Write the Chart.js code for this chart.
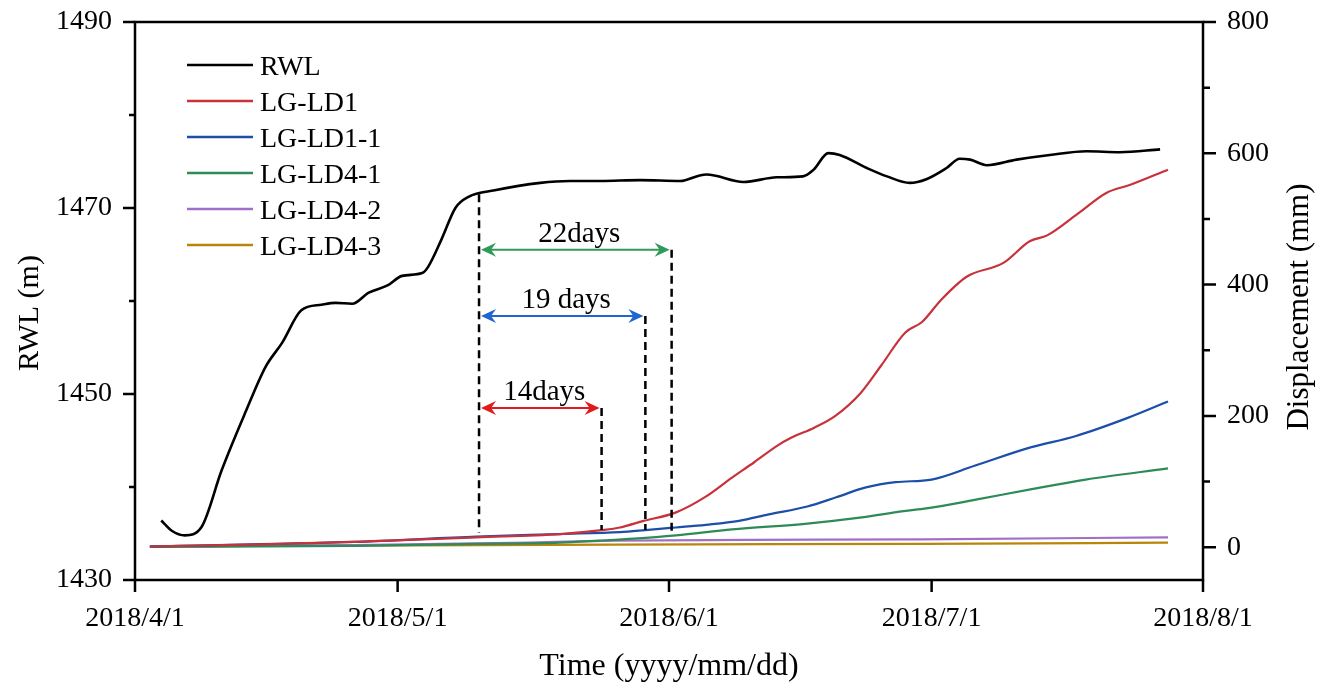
<!DOCTYPE html>
<html>
<head>
<meta charset="utf-8">
<script src="https://cdn.jsdelivr.net/npm/chart.js@4.4.1/dist/chart.umd.min.js"></script>
<style>
  html, body { margin: 0; padding: 0; background: #fff; }
  #wrap { width: 1325px; height: 690px; }
</style>
</head>
<body>
<div id="wrap"><canvas id="c" width="1325" height="690"></canvas></div>
<script>
const FONT = '"Liberation Serif", "Times New Roman", Times, serif';

// Time axis: days since 2018/4/1
const tickDays = [0, 30, 61, 91, 122];
const tickLabels = ['2018/4/1', '2018/5/1', '2018/6/1', '2018/7/1', '2018/8/1'];
const rwlTicks = [1430, 1450, 1470, 1490];
const dispTicks = [0, 200, 400, 600, 800];

// Reservoir water level (m)
const rwlDays = [3.0, 4.2, 5.7, 7.6, 9.9, 12.6, 14.9, 16.8, 19.0, 21.3, 22.9, 24.8, 26.7, 28.9, 30.5, 32.8, 33.5, 35.0, 36.6, 38.1, 41.1, 46.3, 49.7, 53.1, 57.7, 62.3, 64.5, 65.3, 69.5, 73.3, 76.3, 77.5, 79.2, 80.5, 83.6, 85.9, 88.5, 90.4, 92.7, 94.2, 95.4, 97.3, 100.7, 104.5, 108.7, 112.5, 117.1];
const rwlLevels = [1436.4, 1435.3, 1434.8, 1435.7, 1441.8, 1448.0, 1452.9, 1455.5, 1459.0, 1459.6, 1459.8, 1459.7, 1460.9, 1461.7, 1462.7, 1463.0, 1463.7, 1466.6, 1470.0, 1471.2, 1471.9, 1472.7, 1472.9, 1472.9, 1473.0, 1472.9, 1473.5, 1473.6, 1472.8, 1473.3, 1473.4, 1474.1, 1475.9, 1475.7, 1474.3, 1473.4, 1472.7, 1473.1, 1474.3, 1475.3, 1475.2, 1474.6, 1475.2, 1475.7, 1476.1, 1476.0, 1476.3];

// Displacement of monitoring points (mm)
const ld1Days = [1.7, 13, 25, 39, 48.5, 53.3, 55.4, 58.1, 61.8, 65.2, 68.2, 70.7, 73.3, 75.0, 77.6, 80.0, 82.9, 85.2, 88.0, 89.9, 92.1, 95.0, 99.2, 102.2, 104.2, 107.6, 111.0, 113.7, 118.0];
const ld1Disp = [1, 4, 8, 15, 20, 26, 30, 40, 53, 77, 106, 129, 154, 167, 182, 200, 235, 276, 327, 343, 377, 412, 433, 466, 475, 507, 540, 552, 575];

const ld11Days = [1.7, 25, 39, 48.5, 55.4, 58.3, 61.8, 65.2, 69.0, 72.4, 76.8, 80.1, 83.5, 86.9, 91.0, 95.9, 102.3, 107.4, 113.4, 118.0];
const ld11Disp = [1, 8, 16, 20, 23, 26, 30, 34, 40, 50, 62, 76, 91, 99, 103, 124, 152, 169, 197, 222];

const ld41Days = [1.7, 25, 39, 48.5, 53, 57, 61.8, 68.2, 76.8, 82.8, 87.8, 90.4, 95.9, 102.3, 108.6, 118.0];
const ld41Disp = [0.5, 2, 5, 7, 10, 13, 18, 27, 36, 45, 55, 59, 72, 88, 103, 120];

const ld42Days = [1.7, 25, 45, 55, 70, 90, 118.0];
const ld42Disp = [1, 3, 7, 10, 11, 12, 15];

const ld43Days = [1.7, 40, 55, 90, 118.0];
const ld43Disp = [1.5, 3, 4, 5, 7];

// Lag between water-level rise and accelerated deformation
const lagStartDay = 39.3;
const lagBaseDisp = 22;
const lagDays = [14, 19, 22];
const lagLabels = ['14days', '19 days', '22days'];
const lagColors = ['#e31a1c', '#1f66d1', '#2f9a5a'];
const lagArrowLevels = [1448.5, 1458.4, 1465.5];

const pts = (days, vals) => days.map((d, i) => ({ x: d, y: vals[i] }));

function valueAt(days, vals, d) {
  if (d <= days[0]) return vals[0];
  for (let i = 1; i < days.length; i++) {
    if (d <= days[i]) {
      const t = (d - days[i - 1]) / (days[i] - days[i - 1]);
      return vals[i - 1] + t * (vals[i] - vals[i - 1]);
    }
  }
  return vals[vals.length - 1];
}

const lagSeries = [
  { days: ld1Days, vals: ld1Disp },
  { days: ld11Days, vals: ld11Disp },
  { days: ld41Days, vals: ld41Disp }
];

function series(label, days, vals, color, axis, width) {
  return {
    label, data: pts(days, vals), yAxisID: axis,
    borderColor: color, backgroundColor: color, borderWidth: width,
    pointRadius: 0, fill: false, cubicInterpolationMode: 'monotone'
  };
}

const datasets = [
  series('RWL', rwlDays, rwlLevels, '#000000', 'y', 2.6),
  series('LG-LD1', ld1Days, ld1Disp, '#c8323a', 'y2', 2.2),
  series('LG-LD1-1', ld11Days, ld11Disp, '#1b4fa8', 'y2', 2.2),
  series('LG-LD4-1', ld41Days, ld41Disp, '#2e8b57', 'y2', 2.2),
  series('LG-LD4-2', ld42Days, ld42Disp, '#a070c8', 'y2', 2.2),
  series('LG-LD4-3', ld43Days, ld43Disp, '#b8860b', 'y2', 2.2)
];

function arrowHead(ctx, x, y, dir) {
  ctx.beginPath();
  ctx.moveTo(x, y);
  ctx.lineTo(x + dir * 15, y - 7);
  ctx.lineTo(x + dir * 10, y);
  ctx.lineTo(x + dir * 15, y + 7);
  ctx.closePath();
  ctx.fill();
}

const marks = {
  id: 'marks',
  afterDatasetsDraw(chart) {
    const { ctx, scales: { x, y, y2 } } = chart;
    ctx.save();
    ctx.strokeStyle = '#000';
    ctx.lineWidth = 2.5;
    ctx.setLineDash([8, 5]);
    const x0 = x.getPixelForValue(lagStartDay);
    ctx.beginPath();
    ctx.moveTo(x0, y.getPixelForValue(valueAt(rwlDays, rwlLevels, lagStartDay)));
    ctx.lineTo(x0, y2.getPixelForValue(lagBaseDisp));
    ctx.stroke();
    lagDays.forEach((n, i) => {
      const xe = x.getPixelForValue(lagStartDay + n);
      const s = lagSeries[i];
      ctx.beginPath();
      ctx.moveTo(xe, y.getPixelForValue(lagArrowLevels[i]));
      ctx.lineTo(xe, y2.getPixelForValue(valueAt(s.days, s.vals, lagStartDay + n)));
      ctx.stroke();
    });
    ctx.setLineDash([]);
    lagDays.forEach((n, i) => {
      const xe = x.getPixelForValue(lagStartDay + n);
      const ya = y.getPixelForValue(lagArrowLevels[i]);
      const xs = x0 + 2, xt = xe - 2;
      ctx.strokeStyle = lagColors[i];
      ctx.fillStyle = lagColors[i];
      ctx.lineWidth = 2;
      ctx.beginPath();
      ctx.moveTo(xs + 8, ya);
      ctx.lineTo(xt - 8, ya);
      ctx.stroke();
      arrowHead(ctx, xs, ya, 1);
      arrowHead(ctx, xt, ya, -1);
      ctx.fillStyle = '#000';
      ctx.font = '29px ' + FONT;
      ctx.textAlign = 'center';
      ctx.textBaseline = 'alphabetic';
      ctx.fillText(lagLabels[i], (xs + xt) / 2 + 4, ya - 8);
    });
    ctx.restore();
  },
  afterDraw(chart) {
    const { ctx, chartArea: a, scales: { x, y, y2 } } = chart;
    ctx.save();
    ctx.strokeStyle = '#000';
    ctx.lineWidth = 2.5;
    ctx.strokeRect(a.left, a.top, a.right - a.left, a.bottom - a.top);
    ctx.beginPath();
    // left axis ticks (major + minor)
    for (let v = 1430; v <= 1490; v += 10) {
      const p = y.getPixelForValue(v);
      const len = rwlTicks.includes(v) ? 12 : 6;
      ctx.moveTo(a.left, p); ctx.lineTo(a.left - len, p);
    }
    // right axis ticks (major + minor)
    for (let v = 0; v <= 800; v += 100) {
      const p = y2.getPixelForValue(v);
      const len = dispTicks.includes(v) ? 13 : 7;
      ctx.moveTo(a.right, p); ctx.lineTo(a.right + len, p);
    }
    // time axis ticks
    tickDays.forEach(d => {
      const p = x.getPixelForValue(d);
      ctx.moveTo(p, a.bottom); ctx.lineTo(p, a.bottom + 12);
    });
    ctx.stroke();

    // legend
    ctx.font = '28px ' + FONT;
    ctx.textAlign = 'left';
    ctx.textBaseline = 'alphabetic';
    chart.data.datasets.forEach((ds, i) => {
      const ly = 65 + i * 36;
      ctx.strokeStyle = ds.borderColor;
      ctx.lineWidth = 2.5;
      ctx.beginPath();
      ctx.moveTo(187, ly); ctx.lineTo(253, ly);
      ctx.stroke();
      ctx.fillStyle = '#000';
      ctx.fillText(ds.label, 260, ly + 10);
    });

    // axis titles
    ctx.fillStyle = '#000';
    ctx.textAlign = 'center';
    ctx.textBaseline = 'middle';
    ctx.font = '30px ' + FONT;
    ctx.save();
    ctx.translate(30, 313);
    ctx.rotate(-Math.PI / 2);
    ctx.fillText('RWL (m)', 0, 0);
    ctx.restore();
    ctx.font = '31px ' + FONT;
    ctx.save();
    ctx.translate(1300, 307);
    ctx.rotate(-Math.PI / 2);
    ctx.fillText('Displacement (mm)', 0, 0);
    ctx.restore();
    ctx.font = '32px ' + FONT;
    ctx.fillText('Time (yyyy/mm/dd)', (a.left + a.right) / 2, 667);
    ctx.restore();
  }
};

const tickFont = { family: FONT, size: 28 };

function fitSide(width) {
  return s => { s.width = width; s.paddingTop = 0; s.paddingBottom = 0; };
}

new Chart(document.getElementById('c'), {
  type: 'line',
  data: { datasets },
  options: {
    responsive: false,
    devicePixelRatio: 1,
    animation: false,
    layout: { padding: { top: 22, left: 0, right: 0, bottom: 0 } },
    plugins: { legend: { display: false }, tooltip: { enabled: false } },
    scales: {
      x: {
        type: 'linear', position: 'bottom', min: 0, max: 122,
        afterBuildTicks: s => { s.ticks = tickDays.map(v => ({ value: v })); },
        afterFit: s => { s.height = 110; s.paddingLeft = 0; s.paddingRight = 0; },
        ticks: {
          font: tickFont, color: '#000', padding: 10, maxRotation: 0, autoSkip: false,
          callback: v => tickLabels[tickDays.indexOf(v)]
        },
        grid: { display: false, drawTicks: true, tickLength: 12 },
        border: { display: false }
      },
      y: {
        type: 'linear', position: 'left', min: 1430, max: 1490,
        afterBuildTicks: s => { s.ticks = rwlTicks.map(v => ({ value: v })); },
        afterFit: fitSide(135),
        ticks: { font: tickFont, color: '#000', padding: 11, callback: v => String(v) },
        grid: { display: false, drawTicks: true, tickLength: 12 },
        border: { display: false }
      },
      y2: {
        type: 'linear', position: 'right', min: -50, max: 800,
        afterBuildTicks: s => { s.ticks = dispTicks.map(v => ({ value: v })); },
        afterFit: fitSide(122),
        ticks: { font: tickFont, color: '#000', padding: 11, callback: v => String(v) },
        grid: { display: false, drawTicks: true, tickLength: 13 },
        border: { display: false }
      }
    }
  },
  plugins: [marks]
});
</script>
</body>
</html>
